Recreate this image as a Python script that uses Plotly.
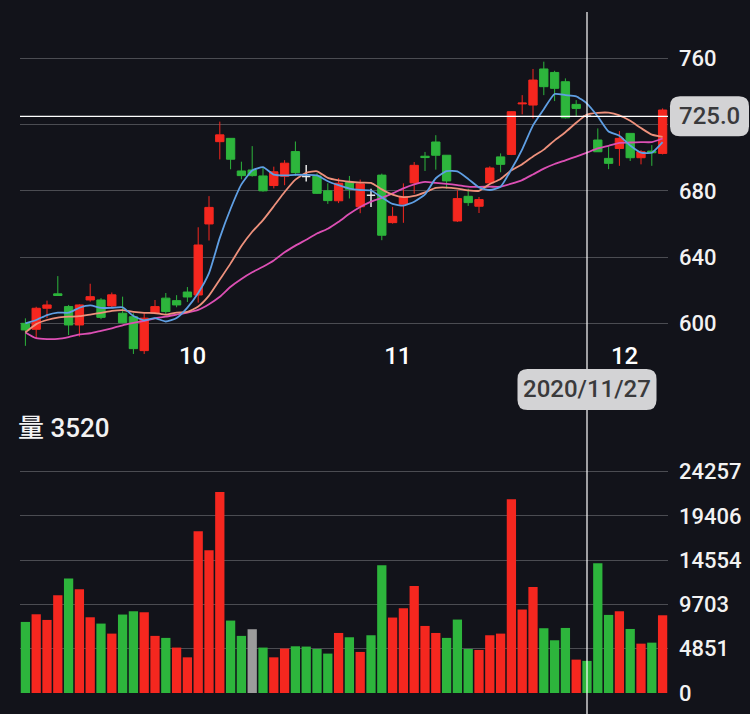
import plotly.graph_objects as go

# trading days on screen
dates = [
    "2020-09-11", "2020-09-14", "2020-09-15", "2020-09-16", "2020-09-17", "2020-09-18",
    "2020-09-21", "2020-09-22", "2020-09-23", "2020-09-24", "2020-09-25", "2020-09-28",
    "2020-09-29", "2020-09-30",
    "2020-10-05", "2020-10-06", "2020-10-07", "2020-10-08", "2020-10-12", "2020-10-13",
    "2020-10-14", "2020-10-15", "2020-10-16", "2020-10-19", "2020-10-20", "2020-10-21",
    "2020-10-22", "2020-10-23", "2020-10-26", "2020-10-27", "2020-10-28", "2020-10-29",
    "2020-10-30",
    "2020-11-02", "2020-11-03", "2020-11-04", "2020-11-05", "2020-11-06", "2020-11-09",
    "2020-11-10", "2020-11-11", "2020-11-12", "2020-11-13", "2020-11-16", "2020-11-17",
    "2020-11-18", "2020-11-19", "2020-11-20", "2020-11-23", "2020-11-24", "2020-11-25",
    "2020-11-26", "2020-11-27", "2020-11-30",
    "2020-12-01", "2020-12-02", "2020-12-03", "2020-12-04", "2020-12-07", "2020-12-08",
]

opens = [600.0, 596.4, 609.1, 617.8, 610.1, 599.0, 614.1, 614.1, 610.5, 606.1,
         604.0, 583.5, 606.3, 615.2, 613.7, 618.9, 617.1, 660.0, 709.7, 711.7,
         692.0, 692.6, 689.0, 683.2, 688.8, 703.7, 688.6, 689.0, 680.0, 674.0,
         685.0, 670.4, 677.3, 689.5, 660.8, 671.9, 684.8, 700.9, 709.5, 701.5,
         661.8, 676.7, 670.7, 684.8, 700.5, 702.0, 732.5, 731.8, 753.6, 751.5,
         745.9, 732.2, 725.0, 710.7, 699.6, 705.6, 714.7, 700.0, 704.0, 702.6]
highs = [603.0, 610.0, 613.7, 628.5, 611.1, 611.5, 623.9, 615.2, 618.6, 616.1,
         606.1, 606.0, 614.1, 618.3, 617.0, 621.9, 658.0, 676.8, 721.8, 711.7,
         697.6, 707.0, 694.0, 694.6, 698.5, 709.8, 695.6, 690.6, 684.6, 687.7,
         689.0, 686.8, 681.3, 690.4, 670.3, 684.5, 697.4, 703.5, 713.6, 701.5,
         680.3, 681.3, 676.3, 694.8, 702.6, 728.0, 737.8, 753.6, 758.0, 752.5,
         747.9, 734.8, 726.0, 717.7, 706.6, 716.1, 714.7, 704.6, 707.6, 729.8]
lows = [586.4, 591.0, 603.1, 616.5, 592.9, 592.0, 613.1, 602.5, 609.7, 600.0,
        581.5, 581.5, 605.5, 605.5, 609.7, 612.9, 612.5, 650.0, 699.0, 693.0,
        687.0, 688.6, 679.5, 681.5, 683.4, 689.0, 685.6, 678.1, 672.1, 672.6,
        675.4, 666.5, 670.3, 650.2, 660.2, 660.7, 678.3, 692.0, 692.8, 681.3,
        661.2, 670.9, 666.6, 684.4, 691.2, 701.6, 726.2, 723.7, 737.8, 734.2,
        723.7, 724.8, 724.0, 703.6, 693.1, 695.1, 698.0, 696.0, 695.1, 702.0]
closes = [596.0, 609.1, 611.1, 616.8, 599.0, 611.1, 616.1, 603.6, 617.2, 600.4,
          584.7, 603.1, 610.1, 607.1, 611.1, 615.9, 647.3, 670.0, 713.8, 699.1,
          689.2, 689.2, 680.0, 691.5, 696.7, 691.0, 688.6, 678.5, 674.1, 684.6,
          681.0, 684.2, 677.3, 653.2, 664.6, 676.3, 695.4, 700.1, 701.5, 686.0,
          675.3, 672.9, 674.7, 693.8, 696.0, 727.8, 733.0, 746.9, 742.9, 741.9,
          724.1, 729.8, 725.0, 703.6, 696.6, 711.7, 700.0, 703.6, 703.0, 728.8]
volume = [7790, 8630, 8010, 10720, 12550, 11380, 8300, 7610, 6510, 8600,
          8960, 8850, 6260, 6040, 4980, 3910, 17740, 15660, 22020, 7940,
          6260, 6990, 4980, 3910, 4870, 5120, 5090, 4830, 4320, 6580,
          6110, 4500, 6330, 14010, 8270, 9290, 11740, 7350, 6580, 6040,
          8050, 4830, 4720, 6330, 6510, 21250, 9150, 11630, 7100, 5780,
          7130, 3660, 3520, 14230, 8560, 8960, 7020, 5410, 5520, 8520]

ma5 = [600.0, 602.0, 605.0, 606.5, 606.4, 609.4, 610.8, 609.3, 609.4, 609.7,
       604.4, 601.8, 603.1, 601.1, 603.2, 609.5, 618.3, 630.3, 651.6, 669.2,
       683.9, 692.3, 694.3, 689.8, 689.3, 689.7, 689.6, 689.3, 685.8, 683.4,
       681.4, 680.5, 680.2, 676.1, 672.1, 671.1, 673.4, 677.9, 687.6, 691.9,
       691.7, 687.2, 682.1, 680.5, 682.5, 693.0, 705.1, 719.5, 729.3, 738.5,
       737.8, 737.1, 732.7, 724.9, 715.8, 713.3, 707.4, 703.1, 703.0, 709.4]
ma10 = [594.5, 599.5, 602.0, 603.5, 604.0, 604.3, 605.3, 606.3, 607.5, 608.0,
        606.9, 606.3, 606.2, 605.2, 606.5, 606.9, 610.1, 616.7, 626.4, 636.2,
        646.7, 655.3, 662.3, 670.7, 679.3, 686.8, 690.9, 691.8, 687.8, 686.3,
        685.5, 685.0, 684.8, 680.9, 677.7, 676.2, 676.9, 679.1, 681.8, 682.0,
        681.4, 680.3, 680.0, 684.1, 687.2, 692.4, 696.1, 700.8, 704.9, 710.5,
        715.4, 721.1, 726.1, 727.1, 727.2, 725.6, 722.3, 717.9, 713.9, 712.6]
ma20 = [594.5, 591.0, 590.5, 590.6, 591.7, 593.3, 594.0, 595.5, 597.0, 598.8,
        600.2, 601.5, 603.0, 604.0, 605.3, 606.5, 608.1, 611.5, 616.0, 622.1,
        626.8, 630.8, 634.2, 638.0, 642.9, 646.9, 650.5, 654.2, 657.1, 661.3,
        666.1, 670.2, 673.5, 675.8, 678.5, 681.5, 683.9, 685.4, 684.8, 684.2,
        683.5, 682.6, 682.4, 682.5, 682.5, 684.3, 686.5, 689.9, 693.4, 696.2,
        698.4, 700.7, 703.1, 705.6, 707.2, 709.0, 709.2, 709.4, 709.4, 711.6]

price_ticks = [600, 640, 680, 720, 760]
price_labels = ["600", "640", "680", "", "760"]  # 720 sits under the crosshair pill
vol_ticks = [0, 4851, 9703, 14554, 19406, 24257]

CROSS = 52  # candle under the crosshair

BG = "#12131a"
GRID = "#4b4c52"
TEXT = "#f2f2f2"
RED = "#f5271f"
GREEN = "#2db53c"
FLAT = "#9c9c9c"
PILL = "#d3d3d5"
PILL_TEXT = "#3a3a3c"
FONT = "Roboto, 'Noto Sans CJK TC', sans-serif"

idx = list(range(len(dates)))

# first trading day of each month gets a label
month_pos = [i for i in idx[1:] if dates[i][5:7] != dates[i - 1][5:7]]
month_txt = [str(int(dates[i][5:7])) for i in month_pos]

# volume colour follows close vs previous close
vol_colors = [GREEN if closes[0] < opens[0] else RED]
for i in idx[1:]:
    if closes[i] > closes[i - 1]:
        vol_colors.append(RED)
    elif closes[i] < closes[i - 1]:
        vol_colors.append(GREEN)
    else:
        vol_colors.append(FLAT)

doji = [i for i in idx if opens[i] == closes[i]]
body = [i for i in idx if opens[i] != closes[i]]


def pick(seq, where):
    return [seq[i] for i in where]


def pill(w, h, r, cx=0.0):
    x0, x1, y0, y1 = cx - w / 2, cx + w / 2, -h / 2, h / 2
    return (f"M{x0 + r},{y0} L{x1 - r},{y0} Q{x1},{y0} {x1},{y0 + r} "
            f"L{x1},{y1 - r} Q{x1},{y1} {x1 - r},{y1} L{x0 + r},{y1} "
            f"Q{x0},{y1} {x0},{y1 - r} L{x0},{y0 + r} Q{x0},{y0} {x0 + r},{y0} Z")


fig = go.Figure()

fig.add_trace(go.Candlestick(
    x=body, open=pick(opens, body), high=pick(highs, body),
    low=pick(lows, body), close=pick(closes, body),
    increasing=dict(line=dict(color=RED, width=1), fillcolor=RED),
    decreasing=dict(line=dict(color=GREEN, width=1), fillcolor=GREEN),
    whiskerwidth=0, hoverinfo="skip",
))
fig.add_trace(go.Candlestick(
    x=doji, open=pick(opens, doji), high=pick(highs, doji),
    low=pick(lows, doji), close=pick(closes, doji),
    increasing=dict(line=dict(color="#e6e6e6", width=1.5), fillcolor="#e6e6e6"),
    decreasing=dict(line=dict(color="#e6e6e6", width=1.5), fillcolor="#e6e6e6"),
    whiskerwidth=0, hoverinfo="skip",
))

for ma, color in ((ma20, "#dc4fb4"), (ma10, "#ee917c"), (ma5, "#5f9fe4")):
    fig.add_trace(go.Scatter(
        x=idx, y=ma, mode="lines", hoverinfo="skip",
        line=dict(color=color, width=1.8, shape="spline", smoothing=0.5),
    ))

fig.add_trace(go.Bar(
    x=idx, y=volume, marker=dict(color=vol_colors, line=dict(width=0)),
    width=0.86, xaxis="x2", yaxis="y2", hoverinfo="skip",
))

# crosshair
fig.add_shape(type="line", xref="x", yref="paper", x0=CROSS, x1=CROSS,
              y0=-0.031, y1=1.0, line=dict(color="white", width=1.2), layer="above")
fig.add_shape(type="line", xref="paper", yref="y", x0=0, x1=1,
              y0=closes[CROSS], y1=closes[CROSS],
              line=dict(color="white", width=1.3), layer="above")

# label pills
fig.add_shape(type="path", xref="paper", yref="y", xsizemode="pixel", ysizemode="pixel",
              xanchor=1, yanchor=closes[CROSS], path=pill(79, 40, 10, cx=41.5),
              fillcolor=PILL, line=dict(width=0), layer="above")
fig.add_shape(type="path", xref="x", yref="paper", xsizemode="pixel", ysizemode="pixel",
              xanchor=CROSS, yanchor=0.4457, path=pill(139, 41, 10),
              fillcolor=PILL, line=dict(width=0), layer="above")

fig.add_annotation(xref="paper", yref="y", x=1, y=closes[CROSS], xshift=41.5,
                   xanchor="center", text=f"{closes[CROSS]:.1f}", showarrow=False,
                   font=dict(family=FONT, size=24, color=PILL_TEXT, weight=500))
fig.add_annotation(xref="x", yref="paper", x=CROSS, y=0.4457, xanchor="center",
                   text=dates[CROSS].replace("-", "/"), showarrow=False,
                   font=dict(family=FONT, size=24, color=PILL_TEXT, weight=500))
fig.add_annotation(xref="paper", yref="paper", x=0, y=0.389, xshift=-4,
                   xanchor="left", text=f"量 {volume[CROSS]}", showarrow=False,
                   font=dict(family=FONT, size=26, color=TEXT, weight=500))

fig.update_layout(
    width=750, height=714,
    paper_bgcolor=BG, plot_bgcolor=BG,
    margin=dict(l=20, r=82, t=12, b=21),
    showlegend=False,
    boxgap=0.23, boxgroupgap=0,
    font=dict(family=FONT, size=22, color=TEXT, weight=500),
    xaxis=dict(
        domain=[0, 1], anchor="y", range=[-0.5, 59.5], automargin=False,
        tickvals=month_pos, ticktext=month_txt, ticks="",
        ticklabelposition="inside", ticklabelshift=16, ticklabelstandoff=-4,
        tickfont=dict(size=24),
        showgrid=False, zeroline=False, showline=False,
        rangeslider=dict(visible=False),
    ),
    yaxis=dict(
        domain=[0.4772, 1], range=[573.0, 788.0], side="right", automargin=False,
        tickvals=price_ticks, ticktext=price_labels, ticks="", ticklabelstandoff=10,
        gridcolor=GRID, gridwidth=1, zeroline=False, showline=False,
    ),
    xaxis2=dict(
        domain=[0, 1], anchor="y2", matches="x", automargin=False,
        showticklabels=False, showgrid=False, zeroline=False, showline=False,
    ),
    yaxis2=dict(
        domain=[0, 0.3304], range=[0, 24663], side="right", automargin=False,
        tickvals=vol_ticks, ticktext=[str(v) for v in vol_ticks], ticks="",
        ticklabelstandoff=10, gridcolor=GRID, gridwidth=1,
        zeroline=False, showline=False,
    ),
)

# page body has a default 8px margin; drop it so the figure sits at the corner
fig.write_html("out.html", config={"displayModeBar": False},
               post_script="document.body.style.margin = '0';")
